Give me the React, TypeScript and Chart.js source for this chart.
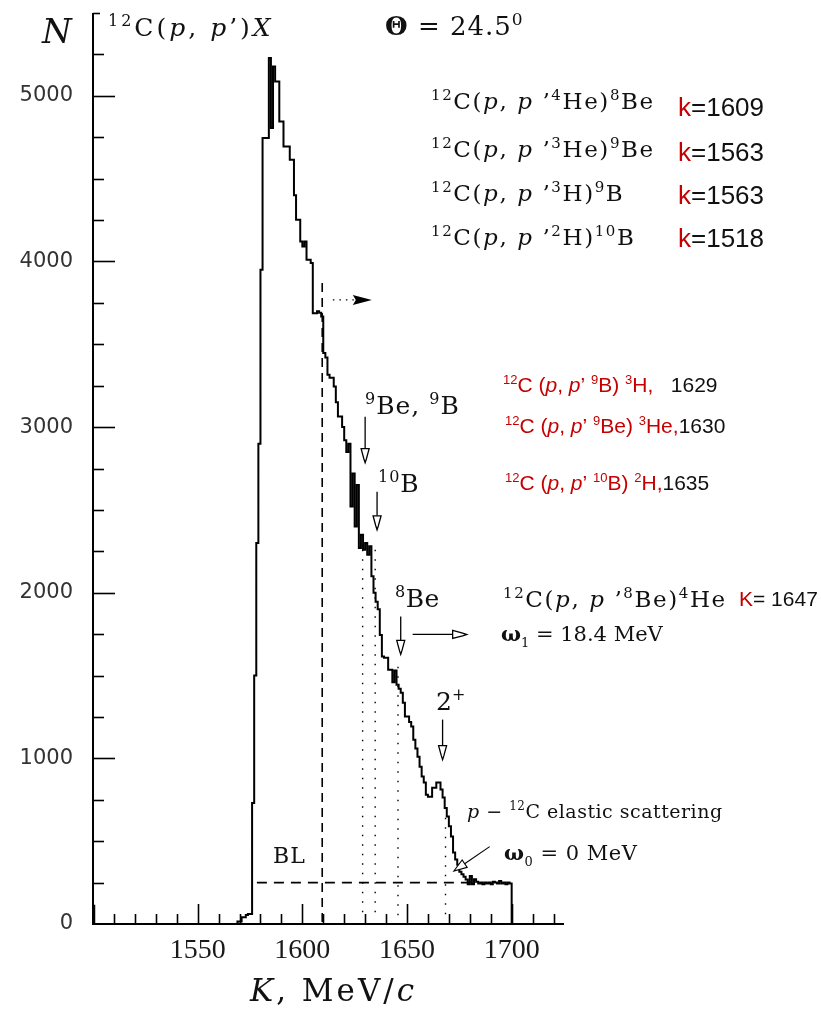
import React, { useEffect, useRef } from 'react';
import { Chart, registerables } from 'chart.js';

Chart.register(...registerables);

// ---- axis ranges / tick labels ----
const K_MIN = 1500;
const K_MAX = 1725;
const N_MAX = 5500;
const xTickStep = 10;
const yTickStep = 250;
const xLabelValues = [1550, 1600, 1650, 1700];
const yLabelValues = [0, 1000, 2000, 3000, 4000, 5000];

// ---- histogram: bin starts 1568,1569,... (1 MeV/c bins), ends at 1700 ----
const HIST_FIRST_K = 1568;
const BIN_WIDTH = 1;
const HIST_END_K = 1700;
const edgeSpike = { k: 1500, n: 110 };
const counts = [
  0, 15, 15, 40, 40, 55, 60, 60, 730, 1500, 2300, 2900,
  3950, 4745, 4745, 4745, 5228, 4805, 5177, 5086, 5086, 4845, 4845, 4694,
  4694, 4694, 4614, 4614, 4400, 4252, 4252, 4121, 4090, 4120, 4010, 4010,
  3991, 3688, 3688, 3700, 3690, 3668, 3447, 3420, 3316, 3298, 3298, 3245,
  3150, 3064, 3064, 3000, 2920, 2850, 2900, 2520, 2720, 2400, 2650, 2270,
  2350, 2260, 2300, 2230, 2280, 2100, 2000, 1945, 1900, 1745, 1615, 1607,
  1607, 1535, 1535, 1460, 1530, 1445, 1420, 1396, 1336, 1252, 1252, 1220,
  1192, 1113, 1060, 1010, 950, 890, 854, 781, 768, 768, 823, 823,
  854, 854, 812, 763, 700, 649, 590, 528, 431, 390, 358, 316,
  300, 286, 268, 240, 290, 240, 270, 255, 245, 250, 240, 250,
  245, 250, 240, 255, 250, 245, 260, 245, 250, 240, 250, 245,
];

// ---- guide lines & markers (data units) ----
const dashedK = 1609.5;
const dashedTopN = 3870;
const baselineN = 250;
const baselineK = [1578.3, 1680];
const dottedK = [1628.8, 1634.8, 1645.7, 1668.4];
const dottedTopN = [2260, 2260, 1553, 641];
const dottedBottomN = 50;
const arrowK = [1630, 1635.7, 1647, 1667];
const arrowTopN = [3063, 2610, 1857, 1234];
const arrowTipN = [2785, 2380, 1628, 992];
const hArrowK = [1652.7, 1678.5];
const hArrowN = 1748;
const topArrowK = [1614.6, 1633.2];
const topArrowN = 3768;
const omega0PointerK = [1689.5, 1672.4];
const omega0PointerN = [467, 320];

const SERIF = '"DejaVu Serif", serif';
const SANS = '"Liberation Sans", Arial, sans-serif';
const RED = '#c40000';
const INK = '#111';

type Seg = { t: string; sup?: boolean; sub?: boolean; it?: boolean; b?: boolean; c?: string; f?: string };

function rich(ctx: CanvasRenderingContext2D, x: number, y: number, segs: Seg[], size: number, fam: string, color: string, spacing = 0) {
  let cx = x;
  ctx.save();
  ctx.textAlign = 'left';
  ctx.textBaseline = 'alphabetic';
  (ctx as any).letterSpacing = spacing + 'px';
  for (const s of segs) {
    const small = s.sup || s.sub;
    const fs = small ? Math.round(size * 0.64) : size;
    ctx.font = `${s.it ? 'italic ' : ''}${s.b ? 'bold ' : ''}${fs}px ${s.f || fam}`;
    ctx.fillStyle = s.c || color;
    const dy = s.sup ? -size * 0.4 : s.sub ? size * 0.28 : 0;
    ctx.fillText(s.t, cx, y + dy);
    cx += ctx.measureText(s.t).width;
  }
  ctx.restore();
}

function formula(mid: string, tail: Seg[]): Seg[] {
  return [
    { t: '12', sup: true },
    { t: 'C(' },
    { t: 'p', it: true },
    { t: ', ' },
    { t: 'p', it: true },
    { t: ' ’' },
    { t: mid, sup: true },
    ...tail,
  ];
}

function redFormula(mid: string, inner: string, sup2: string, last: string, num: string): Seg[] {
  return [
    { t: '12', sup: true, c: RED },
    { t: 'C (', c: RED },
    { t: 'p', it: true, c: RED },
    { t: ', ', c: RED },
    { t: 'p', it: true, c: RED },
    { t: '’ ', c: RED },
    { t: mid, sup: true, c: RED },
    { t: inner + ') ', c: RED },
    { t: sup2, sup: true, c: RED },
    { t: last, c: RED },
    { t: num, c: INK },
  ];
}

const annotationPlugin = {
  id: 'annotations',
  afterDraw(chart: any) {
    const ctx: CanvasRenderingContext2D = chart.ctx;
    const xs = chart.scales.x;
    const ys = chart.scales.y;
    const X = (v: number) => xs.getPixelForValue(v);
    const Y = (v: number) => ys.getPixelForValue(v);
    const { left, right, top, bottom } = chart.chartArea;

    ctx.save();
    // axes
    ctx.strokeStyle = '#000';
    ctx.lineWidth = 2;
    ctx.beginPath();
    ctx.moveTo(left, top);
    ctx.lineTo(left, bottom);
    ctx.lineTo(right, bottom);
    ctx.stroke();
    // y ticks (inward)
    ctx.lineWidth = 1.6;
    for (let v = yTickStep; v <= N_MAX; v += yTickStep) {
      const len = v === N_MAX ? 7 : v % 1000 === 0 ? 22 : 11;
      const py = Math.round(Y(v)) + 0.5;
      ctx.beginPath();
      ctx.moveTo(left, py);
      ctx.lineTo(left + len, py);
      ctx.stroke();
    }
    // x ticks (inward)
    for (let v = K_MIN + xTickStep; v < K_MAX; v += xTickStep) {
      const len = v % 50 === 0 ? 20 : 10;
      const px = Math.round(X(v)) + 0.5;
      ctx.beginPath();
      ctx.moveTo(px, bottom);
      ctx.lineTo(px, bottom - len);
      ctx.stroke();
    }

    // dashed vertical and BL baseline
    ctx.lineWidth = 1.6;
    ctx.setLineDash([9, 6]);
    ctx.beginPath();
    ctx.moveTo(X(dashedK), Y(dashedTopN));
    ctx.lineTo(X(dashedK), bottom);
    ctx.stroke();
    ctx.setLineDash([10, 7]);
    ctx.beginPath();
    ctx.moveTo(X(baselineK[0]), Y(baselineN));
    ctx.lineTo(X(baselineK[1]), Y(baselineN));
    ctx.stroke();

    // dotted verticals
    ctx.lineWidth = 1.4;
    ctx.setLineDash([1.5, 8]);
    dottedK.forEach((k, i) => {
      ctx.beginPath();
      ctx.moveTo(X(k), Y(dottedTopN[i]));
      ctx.lineTo(X(k), Y(dottedBottomN));
      ctx.stroke();
    });
    ctx.setLineDash([]);

    // down arrows with open heads
    ctx.lineWidth = 1.3;
    arrowK.forEach((k, i) => {
      const x = X(k);
      const y0 = Y(arrowTopN[i]);
      const y1 = Y(arrowTipN[i]);
      const hl = 14;
      ctx.beginPath();
      ctx.moveTo(x, y0);
      ctx.lineTo(x, y1 - hl);
      ctx.stroke();
      ctx.beginPath();
      ctx.moveTo(x - 4, y1 - hl);
      ctx.lineTo(x + 4, y1 - hl);
      ctx.lineTo(x + 1.3, y1 - 4);
      ctx.lineTo(x, y1);
      ctx.lineTo(x - 1.3, y1 - 4);
      ctx.closePath();
      ctx.fillStyle = '#fff';
      ctx.fill();
      ctx.stroke();
    });

    // horizontal arrow from 8Be
    {
      const x0 = X(hArrowK[0]);
      const x1 = X(hArrowK[1]);
      const y = Y(hArrowN);
      ctx.beginPath();
      ctx.moveTo(x0, y);
      ctx.lineTo(x1 - 14, y);
      ctx.stroke();
      ctx.beginPath();
      ctx.moveTo(x1 - 14, y - 4);
      ctx.lineTo(x1 - 4, y - 1.3);
      ctx.lineTo(x1, y);
      ctx.lineTo(x1 - 4, y + 1.3);
      ctx.lineTo(x1 - 14, y + 4);
      ctx.closePath();
      ctx.fillStyle = '#fff';
      ctx.fill();
      ctx.stroke();
    }

    // dotted arrow with filled head near top
    {
      const x0 = X(topArrowK[0]);
      const x1 = X(topArrowK[1]);
      const y = Y(topArrowN);
      ctx.setLineDash([1.5, 5]);
      ctx.lineWidth = 1.4;
      ctx.beginPath();
      ctx.moveTo(x0, y);
      ctx.lineTo(x1 - 18, y);
      ctx.stroke();
      ctx.setLineDash([]);
      ctx.beginPath();
      ctx.moveTo(x1 - 19, y - 5);
      ctx.lineTo(x1, y);
      ctx.lineTo(x1 - 19, y + 5);
      ctx.lineTo(x1 - 16, y);
      ctx.closePath();
      ctx.fillStyle = '#000';
      ctx.fill();
    }

    // omega0 pointer
    {
      const xa = X(omega0PointerK[0]);
      const ya = Y(omega0PointerN[0]);
      const xb = X(omega0PointerK[1]);
      const yb = Y(omega0PointerN[1]);
      const dx = xb - xa;
      const dy = yb - ya;
      const L = Math.hypot(dx, dy);
      const ux = dx / L;
      const uy = dy / L;
      const hl = 13;
      const bx = xb - ux * hl;
      const by = yb - uy * hl;
      ctx.lineWidth = 1.1;
      ctx.beginPath();
      ctx.moveTo(xa, ya);
      ctx.lineTo(bx, by);
      ctx.stroke();
      ctx.beginPath();
      ctx.moveTo(bx - uy * 4.5, by + ux * 4.5);
      ctx.lineTo(xb, yb);
      ctx.lineTo(bx + uy * 4.5, by - ux * 4.5);
      ctx.closePath();
      ctx.fillStyle = '#fff';
      ctx.fill();
      ctx.stroke();
    }
    ctx.restore();

    // ---- texts ----
    // axis titles
    rich(ctx, 42, 43, [{ t: 'N', it: true }], 34, SERIF, INK);
    rich(ctx, 250, 1001, [{ t: 'K', it: true }, { t: ', MeV/' }, { t: 'c', it: true }], 31, SERIF, INK, 3);

    // title and angle
    rich(ctx, 108, 36, [{ t: '12', sup: true }, { t: 'C(' }, { t: 'p', it: true }, { t: ', ' }, { t: 'p', it: true }, { t: '’)' }, { t: 'X', it: true }], 25, SERIF, INK, 3);
    rich(ctx, 385, 35, [{ t: 'Θ', b: true }, { t: ' = 24.5' }, { t: '0', sup: true }], 26, SERIF, INK, 1);

    // top-right reaction list
    const rows: Seg[][] = [
      formula('4', [{ t: 'He)' }, { t: '8', sup: true }, { t: 'Be' }]),
      formula('3', [{ t: 'He)' }, { t: '9', sup: true }, { t: 'Be' }]),
      formula('3', [{ t: 'H)' }, { t: '9', sup: true }, { t: 'B' }]),
      formula('2', [{ t: 'H)' }, { t: '10', sup: true }, { t: 'B' }]),
    ];
    const rowBase = [109, 157, 201, 245];
    const kVals = ['=1609', '=1563', '=1563', '=1518'];
    const kBase = [116, 161, 204, 247];
    rows.forEach((r, i) => {
      rich(ctx, 431, rowBase[i], r, 23, SERIF, INK, 1.6);
      rich(ctx, 678, kBase[i], [{ t: 'k', c: RED }, { t: kVals[i] }], 26, SANS, INK);
    });

    // red reaction labels
    rich(ctx, 503, 392, redFormula('9', 'B', '3', 'H,', '   1629'), 21, SANS, INK);
    rich(ctx, 505, 433, redFormula('9', 'Be', '3', 'He,', '1630'), 21, SANS, INK);
    rich(ctx, 505, 490, redFormula('10', 'B', '2', 'H,', '1635'), 21, SANS, INK);

    // 8Be reaction
    rich(ctx, 503, 607, formula('8', [{ t: 'Be)' }, { t: '4', sup: true }, { t: 'He' }]), 23, SERIF, INK, 1.6);
    rich(ctx, 739, 606, [{ t: 'K', c: RED }, { t: '= 1647' }], 21, SANS, INK);
    rich(ctx, 501, 641, [{ t: 'ω', b: true }, { t: '1', sub: true }, { t: ' = 18.4 MeV' }], 21, SERIF, INK);

    // peak labels
    rich(ctx, 365, 414, [{ t: '9', sup: true }, { t: 'Be, ' }, { t: '9', sup: true }, { t: 'B' }], 25, SERIF, INK, 1);
    rich(ctx, 378, 492, [{ t: '10', sup: true }, { t: 'B' }], 25, SERIF, INK, 1);
    rich(ctx, 395, 607, [{ t: '8', sup: true }, { t: 'Be' }], 25, SERIF, INK, 0.5);
    rich(ctx, 436, 710, [{ t: '2' }, { t: '+', sup: true }], 25, SERIF, INK);
    rich(ctx, 467, 818, [{ t: 'p', it: true }, { t: ' − ' }, { t: '12', sup: true }, { t: 'C elastic scattering' }], 19, SERIF, INK, 0.5);
    rich(ctx, 504, 860, [{ t: 'ω', b: true }, { t: '0', sub: true }, { t: ' = 0 MeV' }], 21, SERIF, INK, 0.5);
    rich(ctx, 273, 863, [{ t: 'BL' }], 22, SERIF, INK, 1);
  },
};

export default function App() {
  const ref = useRef<HTMLCanvasElement | null>(null);

  useEffect(() => {
    if (!ref.current) return;
    const pts: { x: number; y: number }[] = [
      { x: edgeSpike.k, y: edgeSpike.n },
      { x: edgeSpike.k + 0.6, y: 0 },
    ];
    counts.forEach((c, i) => pts.push({ x: HIST_FIRST_K + i * BIN_WIDTH, y: c }));
    pts.push({ x: HIST_END_K, y: 0 });

    const chart = new Chart(ref.current, {
      type: 'line',
      data: {
        datasets: [
          {
            data: pts,
            stepped: true,
            borderColor: '#000',
            borderWidth: 2,
            pointRadius: 0,
            fill: false,
          },
        ],
      },
      options: {
        responsive: false,
        animation: false,
        events: [],
        layout: { padding: { left: 0, right: 257, top: 13, bottom: 0 } },
        plugins: { legend: { display: false }, tooltip: { enabled: false } },
        scales: {
          x: {
            type: 'linear',
            min: K_MIN,
            max: K_MAX,
            grid: { display: false, drawTicks: false },
            border: { display: false },
            ticks: {
              stepSize: xTickStep,
              autoSkip: false,
              maxRotation: 0,
              padding: 10,
              color: '#1a1a1a',
              font: { family: '"Liberation Serif", serif', size: 28 },
              callback: (v: any) => (xLabelValues.includes(Number(v)) ? String(v) : ''),
            },
            afterFit: (s: any) => {
              s.height = 90;
              s.paddingLeft = 0;
              s.paddingRight = 0;
            },
          },
          y: {
            min: 0,
            max: N_MAX,
            grid: { display: false, drawTicks: false },
            border: { display: false },
            ticks: {
              stepSize: yTickStep,
              autoSkip: false,
              padding: 20,
              color: '#333',
              font: { family: '"DejaVu Sans", sans-serif', size: 21 },
              callback: (v: any) => (yLabelValues.includes(Number(v)) ? String(v) : ''),
            },
            afterFit: (s: any) => {
              s.width = 93;
              s.paddingTop = 0;
              s.paddingBottom = 0;
            },
          },
        },
      },
      plugins: [annotationPlugin],
    });
    return () => chart.destroy();
  }, []);

  return (
    <div style={{ position: 'absolute', left: 0, top: 0, width: 821, height: 1014, background: '#fff' }}>
      <canvas ref={ref} width={821} height={1014} style={{ display: 'block' }} />
    </div>
  );
}
